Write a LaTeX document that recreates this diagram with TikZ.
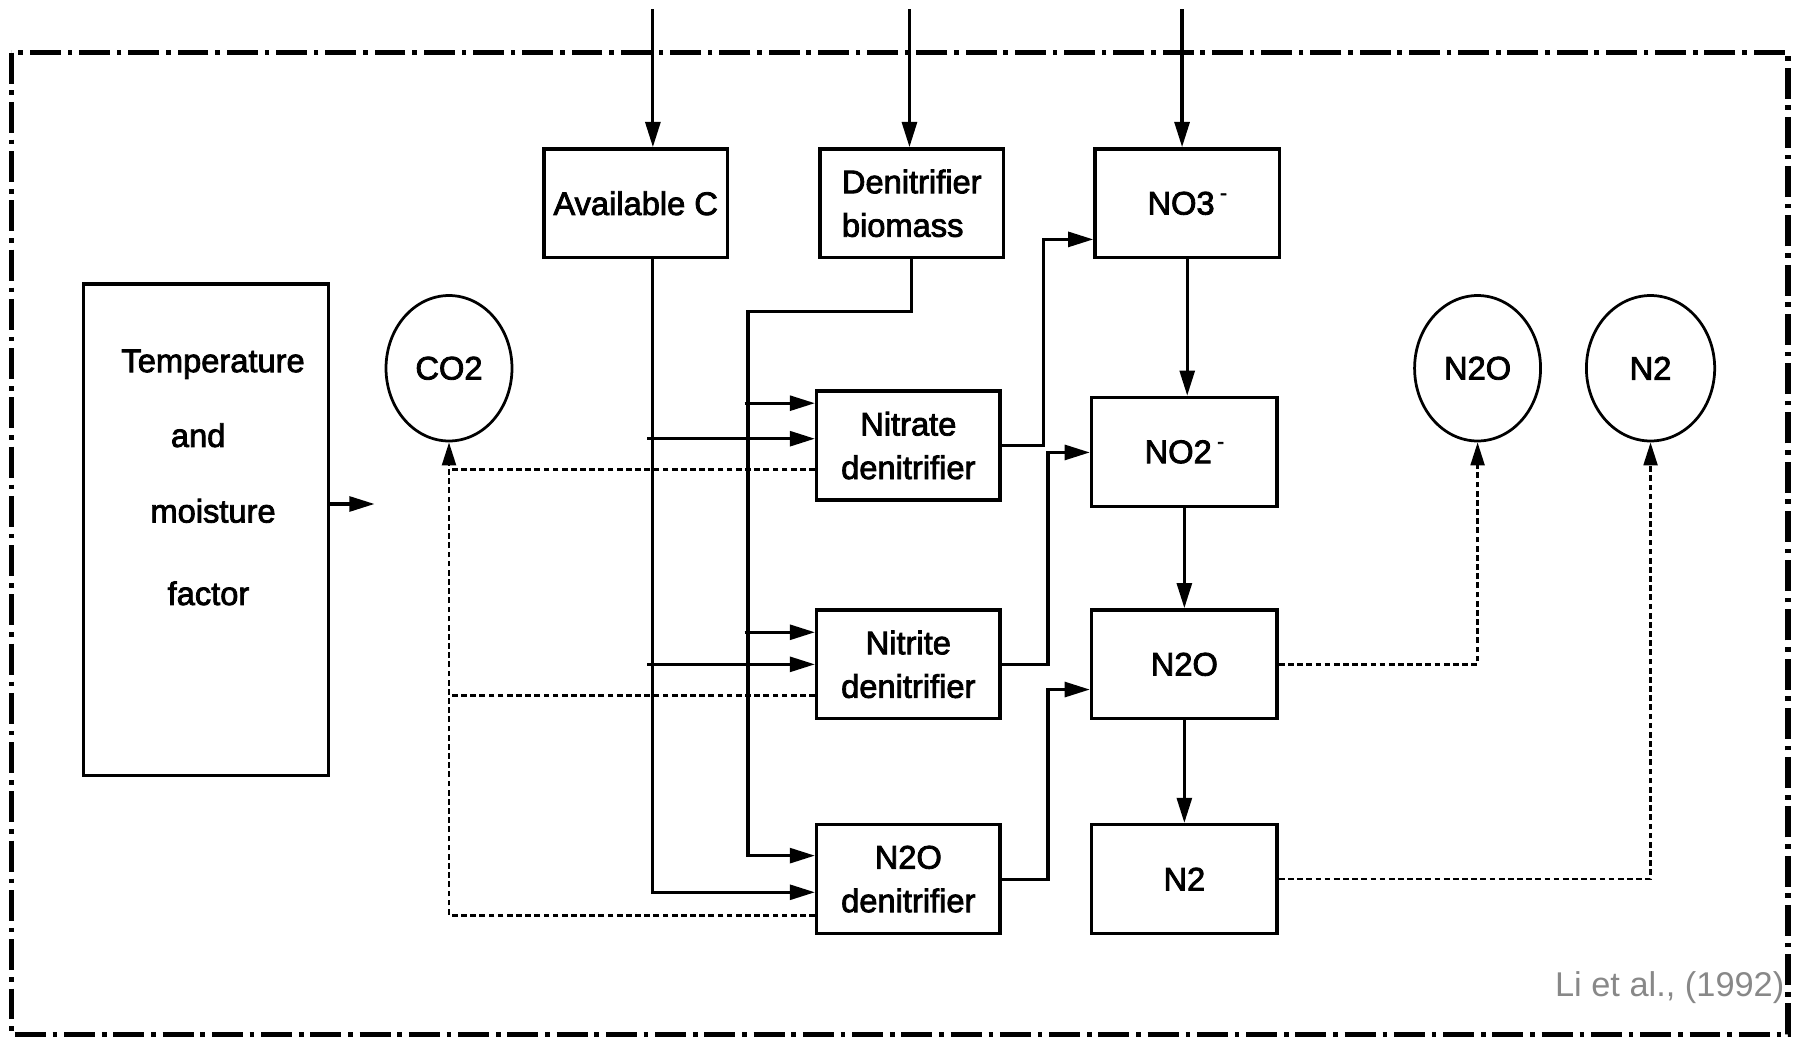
\documentclass[tikz,border=0pt]{standalone}
\usepackage{fontspec}
\setmainfont{Liberation Sans}
\newfontfamily\heavyfont[FakeBold=2.5]{Liberation Sans}
\usetikzlibrary{arrows.meta,shapes.geometric}
\definecolor{citegray}{RGB}{136,136,136}
\begin{document}
\begin{tikzpicture}[x=1pt,y=-1pt,
  txt/.style={font=\heavyfont\fontsize{28.5}{38}\selectfont},
  box/.style={draw,line width=3pt,minimum width=160pt,minimum height=95pt,inner sep=0pt,align=center,txt},
  gas/.style={draw,ellipse,line width=2.4pt,minimum width=110pt,minimum height=127pt,inner sep=0pt,txt},
  lbl/.style={inner sep=0pt,txt},
  flow/.style={line width=2.8pt,-{Triangle[length=22pt,width=13pt]}},
  dotflow/.style={line width=2.4pt,dash pattern=on 5pt off 3pt,-{Triangle[length=20pt,width=12pt]}},
  dotline/.style={line width=2.4pt,dash pattern=on 5pt off 3pt},
  frame/.style={line width=4.5pt,dash pattern=on 27pt off 6pt on 4pt off 6pt}]
\useasboundingbox (0,0) rectangle (1568,906);
% outer frame
\draw[frame] (10,46) rectangle (1561,903);
% boxes
\node[box] (avail) at (555,177.5) {Available C};
\node[box,align=left] (biom) at (796,177.5) {Denitrifier\\biomass};
\node[box,minimum width=161pt] (no3) at (1036.5,177.5) {NO3\,\raisebox{0.45em}{\fontsize{18}{18}\selectfont -}};
\node[draw,line width=3pt,minimum width=214pt,minimum height=429pt,inner sep=0pt] (temp) at (180,462.5) {};
\node[lbl] (t1) at (186,318) {Temperature};
\node[lbl] (t2) at (173,380) {and};
\node[lbl] (t3) at (186,446) {moisture};
\node[lbl] (t4) at (182,518) {factor};
\node[gas] (co2) at (392,321.5) {CO2};
\node[gas] (n2oc) at (1290,321.5) {N2O};
\node[gas,minimum width=112pt] (n2c) at (1441,321.5) {N2};
\node[box] (nitrate) at (793,389) {Nitrate\\denitrifier};
\node[box,minimum width=162pt] (no2) at (1034,394.5) {NO2\,\raisebox{0.45em}{\fontsize{18}{18}\selectfont -}};
\node[box] (nitrite) at (793,580) {Nitrite\\denitrifier};
\node[box,minimum width=162pt] (n2obox) at (1034,580) {N2O};
\node[box] (n2oden) at (793,767.5) {N2O\\denitrifier};
\node[box,minimum width=162pt] (n2box) at (1034,767.5) {N2};
\node[anchor=base east,inner sep=0pt,text=citegray,font=\fontsize{30}{36}\selectfont] (cite) at (1558,870) {Li et al., (1992)};
% inputs from top
\coordinate (in1) at (570,8);
\coordinate (in2) at (794,8);
\coordinate (in3) at (1032,8);
\draw[flow] (in1) -- (in1 |- avail.north);
\draw[flow] (in2) -- (in2 |- biom.north);
\draw[flow] (in3) -- (in3 |- no3.north);
% available C trunk
\coordinate (cA) at (570,779);
\draw[flow] (in1 |- avail.south) -- (cA) -- (cA -| n2oden.west);
\coordinate (bA1) at (565,383);
\coordinate (bA2) at (565,580);
\draw[flow] (bA1) -- (bA1 -| nitrate.west);
\draw[flow] (bA2) -- (bA2 -| nitrite.west);
% biomass trunk
\coordinate (kB) at (653,272);
\coordinate (yB) at (653,747);
\draw[flow] (biom.south) |- (kB) -- (yB) -- (yB -| n2oden.west);
\coordinate (bB1) at (650,352);
\coordinate (bB2) at (650,552);
\draw[flow] (bB1) -- (bB1 -| nitrate.west);
\draw[flow] (bB2) -- (bB2 -| nitrite.west);
% denitrifiers to pools
\coordinate (j1) at (911,209);
\coordinate (j2) at (915,395);
\coordinate (j3) at (915,602);
\draw[flow] (nitrate.east) -| (j1) -- (j1 -| no3.west);
\draw[flow] (nitrite.east) -| (j2) -- (j2 -| no2.west);
\draw[flow] (n2oden.east) -| (j3) -- (j3 -| n2obox.west);
% pool chain
\draw[flow] (no3.south) -- (no3.south |- no2.north);
\draw[flow] (no2.south) -- (no2.south |- n2obox.north);
\draw[flow] (n2obox.south) -- (n2obox.south |- n2box.north);
% temperature arrow
\coordinate (tA) at (327,440);
\draw[flow] (tA -| temp.east) -- (tA);
% CO2 dotted
\coordinate (d1) at (392,799);
\coordinate (d2) at (392,410);
\coordinate (d3) at (392,607);
\draw[dotflow] (d1 -| n2oden.west) -- (d1) -- (co2.south);
\draw[dotline] (d2 -| nitrate.west) -- (d2);
\draw[dotline] (d3 -| nitrite.west) -- (d3);
% gases dotted
\draw[dotflow] (n2obox.east) -| (n2oc.south);
\draw[dotflow] (n2box.east) -| (n2c.south);
\end{tikzpicture}
\end{document}
